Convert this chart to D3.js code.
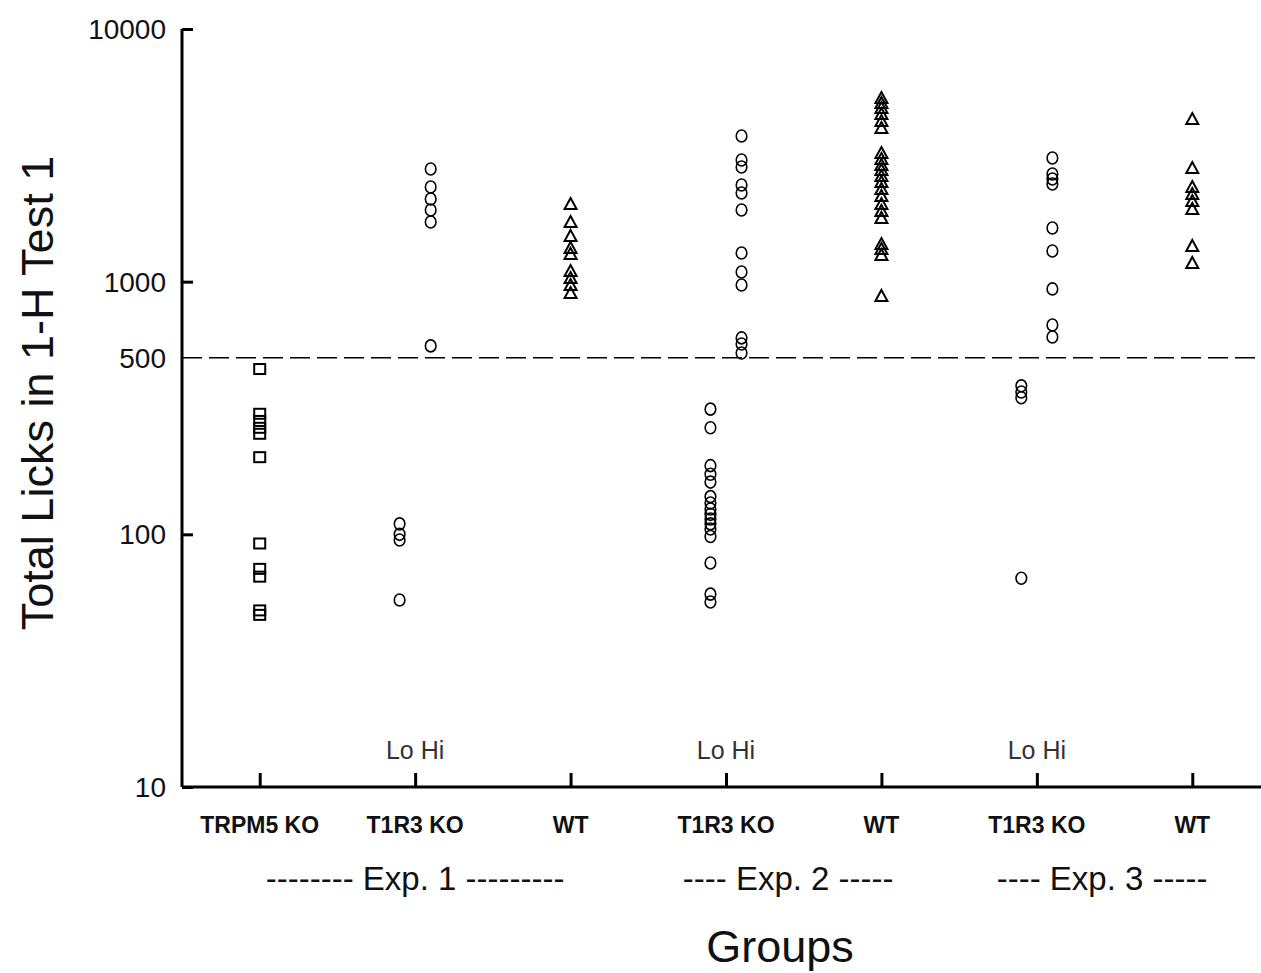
<!DOCTYPE html>
<html>
<head>
<meta charset="utf-8">
<script src="https://cdn.jsdelivr.net/npm/d3@7"></script>
<style>
  body { margin: 0; background: #fff; }
  text { font-family: Arial, "Liberation Sans", sans-serif; }
</style>
</head>
<body>
<div id="chart"></div>
<script>
// group labels along the x axis (positions 1..7)
var groupLabels = ["TRPM5 KO", "T1R3 KO", "WT", "T1R3 KO", "WT", "T1R3 KO", "WT"];
var expLabels = ["-------- Exp. 1 ---------", "---- Exp. 2 -----", "---- Exp. 3 -----"];
var expCenters = [2, 4.4, 6.42];
var loHiGroups = [2, 4, 6];
var yTicks = [10, 100, 500, 1000, 10000];

// total licks
var trpm5Exp1 = [451, 300, 281, 264, 250, 202, 92, 73, 68, 50, 48];
var t1r3LoExp1 = [110, 100, 95, 55];
var t1r3HiExp1 = [2792, 2370, 2125, 1922, 1723, 557];
var wtExp1 = [2030, 1723, 1517, 1360, 1288, 1102, 1034, 970, 902];
var t1r3LoExp2 = [313, 264, 187, 173, 161, 141, 133, 126, 120, 115, 110, 105, 98, 77, 58, 54];
var t1r3HiExp2 = [3773, 3031, 2844, 2414, 2244, 1922, 1299, 1092, 970, 599, 567, 522];
var wtExp2 = [5332, 5095, 4868, 4609, 4324, 4057, 3230, 3059, 2896, 2767, 2620, 2480, 2327, 2184, 2030, 1905, 1787, 1410, 1347, 1276, 878];
var t1r3LoExp3 = [387, 366, 347, 67];
var t1r3HiExp3 = [3086, 2669, 2550, 2436, 1631, 1323, 936, 674, 604];
var wtExp3 = [4404, 2818, 2370, 2223, 2086, 1940, 1385, 1186];

var criterion = 500;

var series = [
  { pos: 1, shape: "square", values: trpm5Exp1 },
  { pos: 1.9, shape: "circle", values: t1r3LoExp1 },
  { pos: 2.1, shape: "circle", values: t1r3HiExp1 },
  { pos: 3, shape: "triangle", values: wtExp1 },
  { pos: 3.9, shape: "circle", values: t1r3LoExp2 },
  { pos: 4.1, shape: "circle", values: t1r3HiExp2 },
  { pos: 5, shape: "triangle", values: wtExp2 },
  { pos: 5.9, shape: "circle", values: t1r3LoExp3 },
  { pos: 6.1, shape: "circle", values: t1r3HiExp3 },
  { pos: 7, shape: "triangle", values: wtExp3 }
];

var width = 1261, height = 973;

var svg = d3.select("#chart").append("svg")
  .attr("width", width)
  .attr("height", height);

var x = d3.scaleLinear().domain([0.5, 7.5]).range([182, 1270]);
var y = d3.scaleLog().domain([10, 10000]).range([787, 29]);

// criterion line
svg.append("line")
  .attr("x1", x(0.5)).attr("x2", width)
  .attr("y1", y(criterion)).attr("y2", y(criterion))
  .attr("stroke", "#000")
  .attr("stroke-width", 1.7)
  .attr("stroke-dasharray", "20,7");

// y axis
var yAxis = d3.axisRight(y)
  .tickValues(yTicks.filter(d => d !== criterion))
  .tickSize(11)
  .tickFormat("");
var yg = svg.append("g")
  .attr("transform", "translate(" + x(0.5) + ",0)")
  .call(yAxis);
yg.select(".domain").attr("stroke-width", 3).attr("d", "M0," + y(10) + "V" + y(10000));
yg.selectAll(".tick line").attr("stroke-width", 3);

svg.append("g").selectAll("text")
  .data(yTicks)
  .enter()
  .append("text")
  .attr("x", 166)
  .attr("y", d => y(d))
  .attr("dy", "0.36em")
  .attr("text-anchor", "end")
  .attr("font-size", 28)
  .attr("fill", "#111")
  .text(d => d);

// x axis
var xAxis = d3.axisTop(x)
  .tickValues(d3.range(1, 8))
  .tickSize(14)
  .tickFormat("");
var xg = svg.append("g")
  .attr("transform", "translate(0," + y(10) + ")")
  .call(xAxis);
xg.select(".domain").attr("stroke-width", 3).attr("d", "M" + x(0.5) + ",0H" + width);
xg.selectAll(".tick line").attr("stroke-width", 3);

svg.append("g").selectAll("text")
  .data(groupLabels)
  .enter()
  .append("text")
  .attr("x", (d, i) => x(i + 1))
  .attr("y", 833)
  .attr("text-anchor", "middle")
  .attr("font-size", 23)
  .attr("font-weight", "bold")
  .attr("fill", "#111")
  .text(d => d);

svg.append("g").selectAll("text")
  .data(expLabels)
  .enter()
  .append("text")
  .attr("x", (d, i) => x(expCenters[i]))
  .attr("y", 890)
  .attr("text-anchor", "middle")
  .attr("font-size", 33)
  .attr("fill", "#111")
  .text(d => d);

svg.append("g").selectAll("text")
  .data(loHiGroups)
  .enter()
  .append("text")
  .attr("x", d => x(d))
  .attr("y", 759)
  .attr("text-anchor", "middle")
  .attr("font-size", 25)
  .attr("fill", "#333")
  .text("Lo Hi");

// axis titles
svg.append("text")
  .attr("transform", "translate(37,393) rotate(-90)")
  .attr("dy", "0.36em")
  .attr("text-anchor", "middle")
  .attr("font-size", 45)
  .attr("fill", "#111")
  .text("Total Licks in 1-H Test 1");

svg.append("text")
  .attr("x", 780)
  .attr("y", 962)
  .attr("text-anchor", "middle")
  .attr("font-size", 45)
  .attr("fill", "#111")
  .text("Groups");

// points
var points = [];
series.forEach(s => s.values.forEach(v => points.push({ pos: s.pos, shape: s.shape, value: v })));

var marks = svg.append("g").selectAll(".pt")
  .data(points)
  .enter();

marks.filter(d => d.shape === "circle")
  .append("ellipse")
  .attr("cx", d => x(d.pos))
  .attr("cy", d => y(d.value))
  .attr("rx", 5.3)
  .attr("ry", 6)
  .attr("fill", "none")
  .attr("stroke", "#000")
  .attr("stroke-width", 1.6);

marks.filter(d => d.shape === "square")
  .append("rect")
  .attr("x", d => x(d.pos) - 5.5)
  .attr("y", d => y(d.value) - 5)
  .attr("width", 11)
  .attr("height", 10)
  .attr("fill", "none")
  .attr("stroke", "#000")
  .attr("stroke-width", 2);

marks.filter(d => d.shape === "triangle")
  .append("path")
  .attr("d", d => {
    var cx = x(d.pos), cy = y(d.value);
    return "M" + cx + "," + (cy - 6) + "L" + (cx + 6) + "," + (cy + 5) + "L" + (cx - 6) + "," + (cy + 5) + "Z";
  })
  .attr("fill", "none")
  .attr("stroke", "#000")
  .attr("stroke-width", 2);
</script>
</body>
</html>
